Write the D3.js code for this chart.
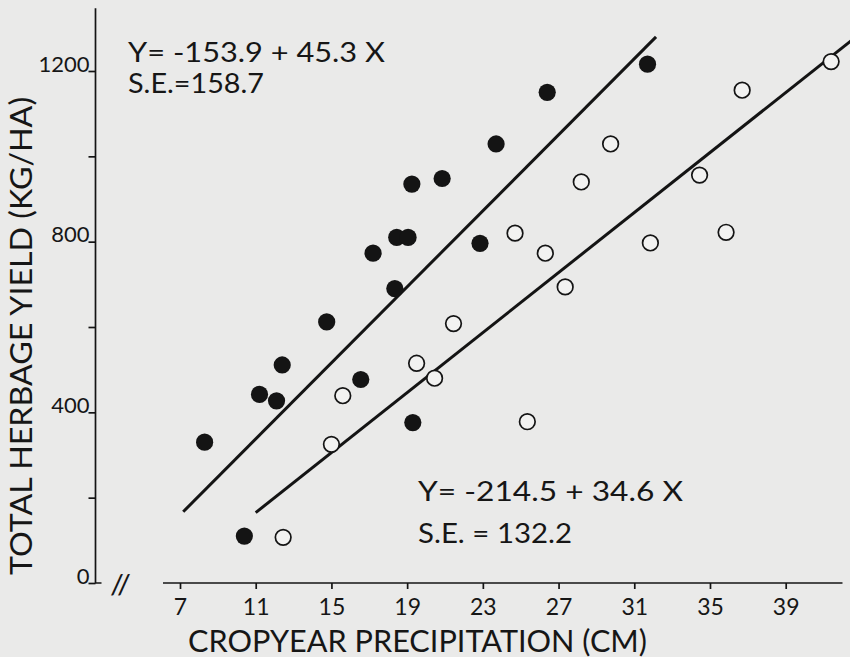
<!DOCTYPE html>
<html>
<head>
<meta charset="utf-8">
<script src="https://cdn.jsdelivr.net/npm/d3@7"></script>
<style>
  html, body { margin: 0; padding: 0; background: #eaeae9; }
  svg { display: block; }
  text { font-family: Lato, "Open Sans", sans-serif; fill: #161616; }
</style>
</head>
<body>
<svg id="chart" width="850" height="657"></svg>
<script>
// ---- data ----
// filled circles (dark series)
const filledX = [8.3, 10.4, 11.2, 12.1, 12.4, 14.75, 16.55, 18.35, 19.3, 17.2, 18.45, 19.05, 19.25, 20.85, 22.85, 23.7, 26.4, 31.7];
const filledY = [330, 110, 442, 427, 511, 612, 477, 690, 376, 773, 810, 810, 935, 948, 796, 1029, 1150, 1216];
// open circles
const openX = [12.45, 15.0, 15.6, 19.5, 20.45, 21.45, 25.35, 24.7, 26.3, 27.35, 28.2, 29.75, 31.85, 34.45, 35.85, 36.7, 41.4];
const openY = [107, 325, 439, 515, 480, 608, 378, 820, 773, 694, 940, 1029, 797, 956, 822, 1155, 1222];
// fitted lines as drawn (x range, y at ends)
const filledLineX = [7.17, 32.15];
const filledLineY = [167, 1280];
const openLineX = [11.0, 42.8];
const openLineY = [165, 1283];
// ticks
const xTicks = [7, 11, 15, 19, 23, 27, 31, 35, 39];
const yTicks = [0, 200, 400, 600, 800, 1000, 1200];
const yTickLabels = ["0", "", "400", "", "800", "", "1200"];
// texts
const eq1 = ["Y= -153.9 + 45.3 X", "S.E.=158.7"];
const eq2 = ["Y= -214.5 + 34.6 X", "S.E. = 132.2"];
const xTitle = "CROPYEAR PRECIPITATION (CM)";
const yTitle = "TOTAL HERBAGE YIELD (KG/HA)";

// ---- drawing ----
const svg = d3.select("#chart");
const ink = "#141414";
const x = d3.scaleLinear().domain([7, 39]).range([180, 785.7]);
const y = d3.scaleLinear().domain([0, 1200]).range([583, 71]);
const axX = 95.5;

svg.append("rect").attr("width", 850).attr("height", 657).attr("fill", "#eaeae9");

// y axis
const yAxis = d3.axisLeft(y).tickValues(yTicks).tickSize(7).tickSizeOuter(0)
  .tickFormat((d, i) => yTickLabels[i]);
const gy = svg.append("g").attr("transform", `translate(${axX},0)`).call(yAxis);
gy.select(".domain").remove();
gy.selectAll(".tick line").attr("stroke", ink).attr("stroke-width", 1.7);
gy.selectAll(".tick text").attr("x", -6).attr("dy", 0).attr("font-size", 22)
  .attr("font-family", "Lato, sans-serif").attr("fill", ink);
// y axis line with hook at bottom
svg.append("path")
  .attr("d", d3.line()([[axX, y(1347)], [axX, y(0)], [axX + 6, y(0)]]))
  .attr("fill", "none").attr("stroke", ink).attr("stroke-width", 1.7);

// x axis
const xAxis = d3.axisBottom(x).tickValues(xTicks).tickSize(6).tickSizeOuter(0);
const gx = svg.append("g").attr("transform", `translate(0,${y(0)})`).call(xAxis);
gx.select(".domain").remove();
gx.selectAll(".tick line").attr("stroke", ink).attr("stroke-width", 1.7);
gx.selectAll(".tick text").attr("y", 32).attr("dy", 0).attr("font-size", 23)
  .attr("font-family", "Lato, sans-serif").attr("fill", ink);
svg.append("line")
  .attr("x1", x(6.1)).attr("x2", x(42.0)).attr("y1", y(0)).attr("y2", y(0))
  .attr("stroke", ink).attr("stroke-width", 1.7);

// axis break marks
svg.append("text").attr("x", 110).attr("y", 594).attr("font-size", 26)
  .attr("textLength", 21).attr("lengthAdjust", "spacingAndGlyphs").text("//");

// regression lines
const lineGen = d3.line().x(d => x(d[0])).y(d => y(d[1]));
svg.append("path").datum(d3.zip(filledLineX, filledLineY)).attr("d", lineGen)
  .attr("stroke", ink).attr("stroke-width", 3).attr("fill", "none");
svg.append("path").datum(d3.zip(openLineX, openLineY)).attr("d", lineGen)
  .attr("stroke", ink).attr("stroke-width", 3).attr("fill", "none");

// points
svg.append("g").selectAll("circle").data(d3.zip(openX, openY)).join("circle")
  .attr("cx", d => x(d[0])).attr("cy", d => y(d[1])).attr("r", 7.8)
  .attr("fill", "#f2f2f1").attr("stroke", ink).attr("stroke-width", 1.7);
svg.append("g").selectAll("circle").data(d3.zip(filledX, filledY)).join("circle")
  .attr("cx", d => x(d[0])).attr("cy", d => y(d[1])).attr("r", 8.6)
  .attr("fill", ink);

// equations
svg.append("text").attr("x", 128).attr("y", 62).attr("font-size", 26)
  .attr("textLength", 257).attr("lengthAdjust", "spacingAndGlyphs").text(eq1[0]);
svg.append("text").attr("x", 128).attr("y", 93).attr("font-size", 26)
  .attr("textLength", 136).attr("lengthAdjust", "spacingAndGlyphs").text(eq1[1]);
svg.append("text").attr("x", 418).attr("y", 501).attr("font-size", 26)
  .attr("textLength", 265).attr("lengthAdjust", "spacingAndGlyphs").text(eq2[0]);
svg.append("text").attr("x", 418).attr("y", 543).attr("font-size", 26)
  .attr("textLength", 154).attr("lengthAdjust", "spacingAndGlyphs").text(eq2[1]);

// axis titles
svg.append("text").attr("x", 188).attr("y", 652).attr("font-size", 30)
  .attr("textLength", 459).attr("lengthAdjust", "spacingAndGlyphs").text(xTitle);
svg.append("text").attr("transform", "translate(32,575) rotate(-90)")
  .attr("font-size", 30)
  .attr("textLength", 478).attr("lengthAdjust", "spacingAndGlyphs").text(yTitle);
</script>
</body>
</html>
